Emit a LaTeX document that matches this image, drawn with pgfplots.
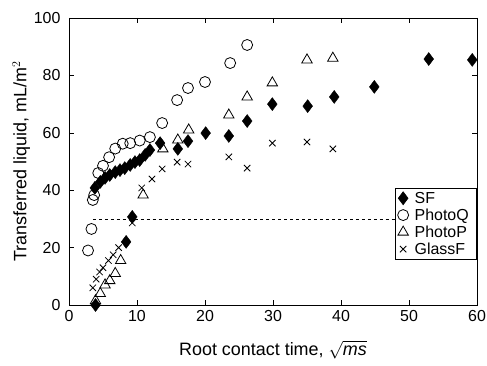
\documentclass[border=0pt]{standalone}
\usepackage{pgfplots}
\pgfplotsset{compat=1.18}
\usepackage{fontspec}
\setmainfont{Liberation Sans}
\begin{document}
\begin{tikzpicture}[x=1bp,y=1bp]
\begin{axis}[
  scale only axis,
  width=408bp, height=287bp,
  xmin=0, xmax=60, ymin=0, ymax=100,
  xtick={0,10,...,60}, ytick={0,20,...,100},
  tick align=inside,
  major tick length=5bp,
  axis line style={line width=0.8pt},
  tick style={line width=0.6pt, black},
  /pgf/number format/assume math mode=true,
  tick label style={font=\fontsize{16}{18}\selectfont},
  xticklabel style={yshift=-2bp},
  yticklabel style={xshift=-5bp},
  label style={font=\fontsize{18}{20}\selectfont},
  xlabel={Root contact time, $\sqrt{\mathit{ms}}$},
  ylabel={Transferred liquid, mL/m$^2$},
  xlabel style={yshift=-12bp},
  ylabel style={yshift=-3bp},
  legend style={at={(1,0.157)}, anchor=south east, draw=black, line width=0.6pt,
    font=\fontsize{16}{17}\selectfont, inner sep=2pt, row sep=0pt, cells={anchor=west},
    nodes={inner xsep=6bp}},
  legend cell align=left,
]
\addplot[only marks, mark=diamond*, mark size=6.5bp, mark options={fill=black, draw=black}] coordinates {
(3.9,0) (8.4,22) (9.3,30.7) (3.8,40.8) (4.6,42.9) (5.3,44.3) (6.0,45.3) (6.8,46.3) (7.5,47.0)
(8.2,47.7) (9.0,48.8) (9.7,49.8) (10.4,50.5) (11.2,52.3) (11.9,54.0) (13.4,56.4) (16.0,54.4)
(17.5,57.1) (20.1,59.9) (23.5,58.9) (26.2,64.1) (29.9,70.0) (35.1,69.3) (39.0,72.5)
(44.9,76.0) (52.9,85.7) (59.3,85.4)
};
\addlegendentry{SF}
\addplot[only marks, mark=o, mark size=5.5bp, mark options={draw=black, line width=0.8pt}] coordinates {
(2.8,19) (3.3,26.5) (3.5,36.6) (3.7,38.3) (4.3,46) (5.0,48.5) (5.9,51.5) (6.8,54.5)
(7.9,56.2) (9.0,56.4) (10.4,57.3) (11.9,58.5) (13.7,63.4) (15.9,71.4) (17.5,75.6)
(20.0,77.7) (23.7,84.3) (26.2,90.6)
};
\addlegendentry{PhotoQ}
\addplot[only marks, mark=triangle, mark size=6bp, mark options={draw=black, line width=0.8pt}] coordinates {
(3.9,1.5) (4.6,4) (5.3,7) (6.0,8.5) (6.8,11) (7.6,15.5) (10.9,38.3) (13.8,54.4) (16.0,57.5)
(17.6,61) (23.5,66.2) (26.2,72.5) (29.9,77.4) (35.0,85.4) (38.8,86)
};
\addlegendentry{PhotoP}
\addplot[only marks, mark=x, mark size=4.5bp, mark options={draw=black, line width=0.8pt}] coordinates {
(3.5,6) (4.0,9) (4.5,11.5) (5.0,13) (5.8,15.5) (6.5,17.5) (7.3,20) (9.3,28.6) (10.7,40.8)
(12.2,43.9) (13.7,47.4) (15.9,49.8) (17.5,49.1) (23.5,51.6) (26.2,47.7) (29.9,56.4)
(35.0,56.8) (38.8,54.4)
};
\addlegendentry{GlassF}
\addplot[forget plot, dashed, black, line width=0.6pt] coordinates {(3.5,30) (59.5,30)};
\end{axis}
\pgfresetboundingbox
\path[use as bounding box] ([shift={(-69bp,-60bp)}]current axis.south west) rectangle ([shift={(10bp,18bp)}]current axis.north east);
\end{tikzpicture}
\end{document}
